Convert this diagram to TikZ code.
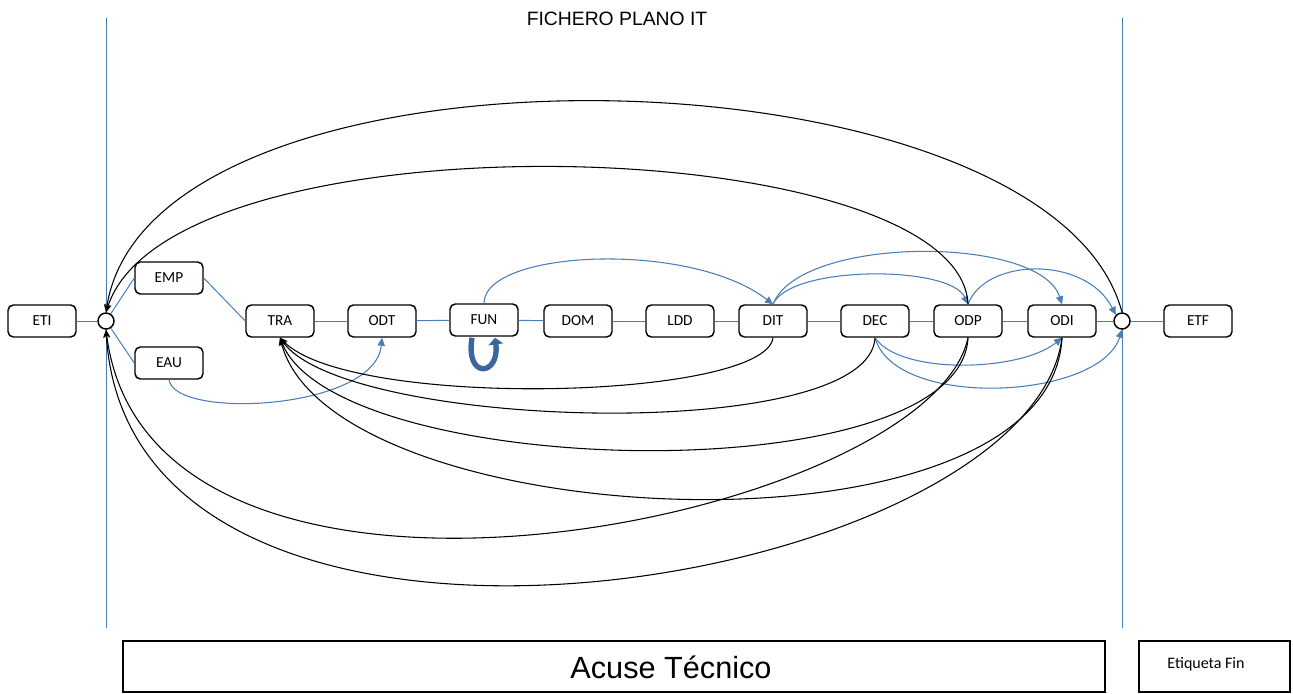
\documentclass[tikz,border=0pt]{standalone}
\usepackage{fontspec}
\setmainfont{Carlito}
\newfontfamily\arialf{Liberation Sans}
\usetikzlibrary{arrows.meta,calc}
\definecolor{lblue}{HTML}{4A7EBB}
\definecolor{dblue}{HTML}{3A679F}
\begin{document}
\begin{tikzpicture}[x=0.75pt,y=-0.75pt,
  box/.style={draw=black, line width=1.1pt, rounded corners=4pt, minimum width=51pt, minimum height=24pt, inner sep=0pt, fill=white, font=\fontsize{11.5}{13}\selectfont},
  junc/.style={circle, draw=black, line width=1.1pt, minimum size=12pt, inner sep=0pt, fill=white},
  flow/.style={draw=lblue, line width=0.75pt},
  barrow/.style={draw=lblue, line width=0.8pt, -{Triangle[length=6pt,width=5.5pt]}},
  karrow/.style={draw=black, line width=0.8pt, -{Stealth[length=6pt,width=5pt]}},
  loopy/.style={draw=dblue, line width=4pt, -{Triangle[length=5pt,width=11pt]}},
  framebox/.style={draw=black, line width=1.1pt, inner sep=0pt}]
\useasboundingbox (0,0) rectangle (1293,693);
% vertical separators
\coordinate (VLt) at (106,18);
\coordinate (VLb) at (106,628);
\coordinate (VRt) at (1122,18);
\coordinate (VRb) at (1122,628);
\draw[flow] (VLt) -- (VLb);
\draw[flow] (VRt) -- (VRb);
% title
\node[font=\arialf\fontsize{14.5}{16}\selectfont] (title) at (617,19) {FICHERO PLANO IT};
% nodes
\node[box] (ETI) at (42,321) {ETI};
\node[junc] (CL) at (106,321) {};
\node[box] (EMP) at (169,278) {EMP};
\node[box] (EAU) at (169,363) {EAU};
\node[box] (TRA) at (280,321) {TRA};
\node[box] (ODT) at (382,321) {ODT};
\node[box] (FUN) at (484,320) {FUN};
\node[box] (DOM) at (578,321) {DOM};
\node[box] (LDD) at (680,321) {LDD};
\node[box] (DIT) at (773,321) {DIT};
\node[box] (DEC) at (875,321) {DEC};
\node[box] (ODP) at (968,321) {ODP};
\node[box] (ODI) at (1062,321) {ODI};
\node[junc] (CR) at (1122,321) {};
\node[box] (ETF) at (1198,321) {ETF};
% bottom boxes
\node[framebox, minimum width=736.5pt, minimum height=38.25pt] (acuse) at (614,666.5) {};
\node[font=\arialf\fontsize{23}{26}\selectfont] (acusetxt) at (671,667) {Acuse Técnico};
\node[framebox, minimum width=113.25pt, minimum height=38.25pt] (etqbox) at (1214.5,666.5) {};
\node[font=\fontsize{12}{14}\selectfont] (etqtxt) at (1206,664) {Etiqueta Fin};
% main chain
\draw[flow] (ETI) -- (CL);
\draw[flow] (CL) -- (EMP.west);
\draw[flow] (CL) -- (EAU.west);
\draw[flow] (EMP.east) -- (TRA.west);
\draw[flow] (TRA) -- (ODT);
\draw[flow] (ODT) -- (FUN);
\draw[flow] (FUN) -- (DOM);
\draw[flow] (DOM) -- (LDD);
\draw[flow] (LDD) -- (DIT);
\draw[flow] (DIT) -- (DEC);
\draw[flow] (DEC) -- (ODP);
\draw[flow] (ODP) -- (ODI);
\draw[flow] (ODI) -- (CR);
\draw[flow] (CR) -- (ETF);
% blue curved arrows
\draw[barrow] (EAU.south) .. controls (175,420) and (375,410) .. (ODT.south);
\draw[barrow] (FUN.north) .. controls (484,250) and (690,240) .. (DIT.north);
\draw[barrow] (DIT.north) .. controls (790,265) and (950,265) .. (ODP.north);
\draw[barrow] (DIT.north) .. controls (800,235) and (1040,235) .. (ODI.north);
\draw[barrow] (ODP.north) .. controls (985,258) and (1085,255) .. (CR.north west);
\draw[barrow] (DEC.south) .. controls (900,375) and (1020,372) .. (ODI.south);
\draw[barrow] (DEC.south) .. controls (895,410) and (1100,400) .. (CR.south);
% self loop on FUN
\draw[loopy] ($(FUN.south)+(-12,1)$) .. controls (465,380) and (500,376) .. ($(FUN.south)+(11,1)$);
% black arrows to left junction (top)
\draw[karrow] (CR.north) .. controls (1050,40) and (150,22) .. (CL.north);
\draw[karrow] (ODP.north) .. controls (960,130) and (170,110) .. (CL.north);
% black arrows to TRA
\draw[karrow] (DIT.south) .. controls (765,400) and (350,410) .. (TRA.south);
\draw[karrow] (DEC.south) .. controls (870,445) and (345,430) .. (TRA.south);
\draw[karrow] (ODP.south) .. controls (960,495) and (335,480) .. (TRA.south);
\draw[karrow] (ODI.south) .. controls (1050,570) and (330,535) .. (TRA.south);
% black arrows to left junction (bottom)
\draw[karrow] (ODP.south) .. controls (930,520) and (150,680) .. (CL.south);
\draw[karrow] (ODI.south) .. controls (1030,590) and (130,740) .. (CL.south);
\end{tikzpicture}
\end{document}
